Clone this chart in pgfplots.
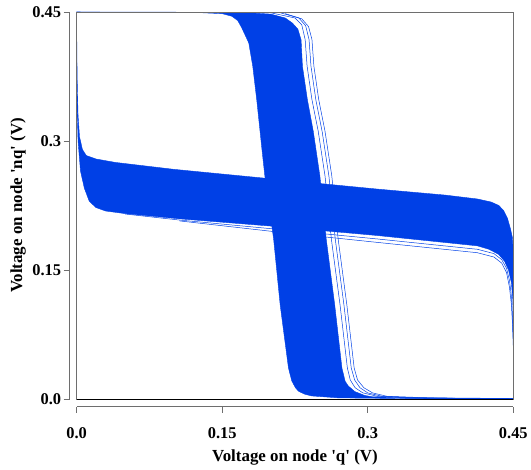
\documentclass[border=0pt]{standalone}
\usepackage{fontspec}
\setmainfont{Liberation Serif}
\usepackage{pgfplots}
\pgfplotsset{compat=1.18}
\definecolor{band}{RGB}{0,64,230}
\definecolor{frame}{RGB}{110,110,110}

\begin{document}
\begin{tikzpicture}
\begin{axis}[
    scale only axis,
    width=439pt, height=389pt,
    xmin=0, xmax=0.45, ymin=0, ymax=0.45,
    axis lines*=left,
    axis x line shift=8pt,
    axis y line shift=7pt,
    axis line style={frame, -, line width=0.8pt},
    clip=false,
    xtick={0,0.15,0.3,0.45}, xticklabels={0.0,0.15,0.3,0.45},
    ytick={0,0.15,0.3,0.45}, yticklabels={0.0,0.15,0.3,0.45},
    tick align=outside,
    major tick length=6pt,
    tick style={frame, line width=0.8pt},
    ticklabel style={font=\bfseries\fontsize{16.5}{16.5}\selectfont},
    xticklabel style={yshift=-11pt},
    yticklabel style={xshift=1pt},
    xlabel={Voltage on node \textquotesingle q\textquotesingle\ (V)},
    ylabel={Voltage on node \textquotesingle nq\textquotesingle\ (V)},
    label style={font=\bfseries\fontsize{17}{17}\selectfont},
    xlabel style={at={(axis description cs:0.5,0)}, anchor=base, yshift=-63pt},
    ylabel style={at={(axis description cs:-0.125,0.5)}, anchor=base},
]
% horizontal band (nq as a function of q)
\addplot[fill=band, draw=band, line width=0.4pt] coordinates {
 (0,0.45) (0.0003,0.40) (0.0008,0.36) (0.0015,0.33) (0.003,0.305) (0.006,0.29)
 (0.01,0.283) (0.02,0.279) (0.04,0.275) (0.1,0.267) (0.2,0.256) (0.31,0.244)
 (0.38,0.237) (0.413,0.2325) (0.427,0.229) (0.435,0.225) (0.44,0.219)
 (0.444,0.21) (0.447,0.198) (0.449,0.188) (0.45,0.17)
 (0.45,0.09) (0.4495,0.115) (0.448,0.135) (0.445,0.150) (0.441,0.160)
 (0.435,0.168) (0.425,0.174) (0.413,0.178) (0.31,0.19) (0.2,0.201)
 (0.106,0.2094) (0.05,0.2155) (0.03,0.2185) (0.02,0.2225) (0.013,0.2300)
 (0.008,0.2450) (0.004,0.265) (0.0015,0.30) (0.0005,0.34) (0,0.36)
} -- cycle;
\addplot[band, line width=0.5pt] coordinates {
 (0.05,0.215) (0.106,0.208) (0.2,0.198) (0.31,0.186) (0.413,0.174) (0.43,0.169)
 (0.438,0.162) (0.443,0.152) (0.446,0.138) (0.448,0.12) (0.449,0.1) (0.45,0.07) (0.45,0)
};
\addplot[band, line width=0.5pt] coordinates {
 (0.106,0.207) (0.2,0.195) (0.31,0.182) (0.413,0.170) (0.43,0.165) (0.438,0.158)
 (0.443,0.147) (0.446,0.13) (0.448,0.11) (0.449,0.09) (0.45,0.06)
};
% vertical band (q as a function of nq)
\addplot[fill=band, draw=band, line width=0.4pt] coordinates {
 (0,0.45) (0.12,0.4495) (0.15,0.448) (0.160,0.445) (0.166,0.440) (0.170,0.432)
 (0.1774,0.414) (0.1815,0.387) (0.1856,0.348) (0.191,0.290) (0.194,0.259)
 (0.203,0.186) (0.2098,0.109) (0.2183,0.036) (0.2217,0.021) (0.2255,0.013)
 (0.2286,0.009) (0.235,0.0055) (0.242,0.0035) (0.27,0.0012) (0.35,0.0003) (0.45,0)
 (0.45,0.0005) (0.40,0.001) (0.33,0.0015) (0.305,0.0025) (0.297,0.004)
 (0.2867,0.0085) (0.2800,0.015) (0.2767,0.0206) (0.2734,0.0359) (0.266,0.109)
 (0.2572,0.186) (0.2507,0.259) (0.2439,0.311) (0.2378,0.348) (0.2327,0.387)
 (0.2313,0.4176) (0.228,0.430) (0.2224,0.437) (0.215,0.443) (0.20,0.4475)
 (0.17,0.4495) (0,0.45)
} -- cycle;
\addplot[band, line width=0.5pt] coordinates {
 (0.2,0.449) (0.225,0.443) (0.232,0.435) (0.2355,0.418) (0.2375,0.387)
 (0.2425,0.348) (0.249,0.311) (0.256,0.259) (0.2625,0.186) (0.2715,0.109)
 (0.279,0.036) (0.282,0.022) (0.287,0.013) (0.295,0.007) (0.31,0.003) (0.35,0.001) (0.45,0)
};
\addplot[band, line width=0.5pt] coordinates {
 (0.21,0.449) (0.229,0.443) (0.236,0.434) (0.2395,0.418) (0.2415,0.387)
 (0.2465,0.348) (0.253,0.311) (0.26,0.259) (0.2665,0.186) (0.2755,0.109)
 (0.283,0.036) (0.2865,0.022) (0.292,0.013) (0.30,0.007) (0.315,0.003) (0.36,0.001) (0.45,0)
};
\addplot[band, line width=0.5pt] coordinates {
 (0.215,0.448) (0.232,0.442) (0.239,0.433) (0.2425,0.418) (0.2445,0.387)
 (0.2495,0.348) (0.256,0.311) (0.263,0.259) (0.2695,0.186) (0.2785,0.109)
 (0.286,0.036) (0.2895,0.022) (0.296,0.013) (0.305,0.007) (0.32,0.003) (0.37,0.001) (0.45,0)
};
% plot frame
\draw[frame, line width=0.8pt] (rel axis cs:0,0) rectangle (rel axis cs:1,1);
\draw[black, line width=0.8pt] (rel axis cs:0,0) -- (rel axis cs:1,0);
% page extent
\path (rel axis cs:0,0) ++(-77pt,-71pt);
\path (rel axis cs:1,1) ++(15pt,12pt);
\end{axis}
\end{tikzpicture}
\end{document}
